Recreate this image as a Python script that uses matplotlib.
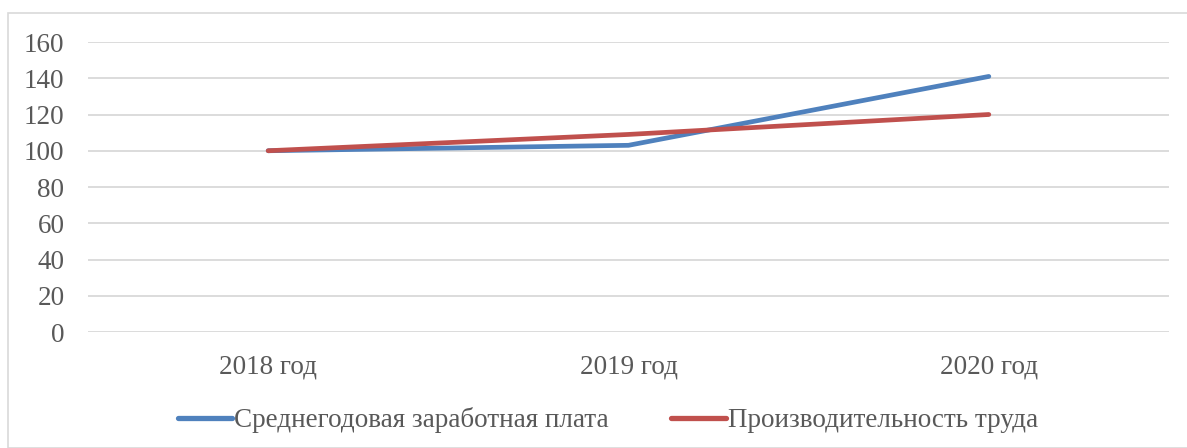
import matplotlib
matplotlib.use("Agg")
import matplotlib.pyplot as plt
from matplotlib.lines import Line2D
from matplotlib.patches import Rectangle

categories = ["2018 год", "2019 год", "2020 год"]
salary = [100, 103, 141]
productivity = [100, 109, 120]
series_names = ["Среднегодовая заработная плата", "Производительность труда"]
yticks = [0, 20, 40, 60, 80, 100, 120, 140, 160]

W, H = 1187, 448
fig = plt.figure(figsize=(W / 100, H / 100), dpi=100)
plt.rcParams['font.family'] = ['Liberation Serif', 'DejaVu Serif']
FS = 19.5

# outer frame
fig.patches.append(Rectangle((8 / W, 0), 1.2, (H - 13) / H, transform=fig.transFigure,
                             fill=False, edgecolor='#d9d9d9', linewidth=1.2))

ax = fig.add_axes([88 / W, (H - 332) / H, (1169 - 88) / W, 290 / H])
x = list(range(len(categories)))
ax.plot(x, salary, color='#4F81BD', lw=3.4, solid_capstyle='round', solid_joinstyle='round', zorder=3)
ax.plot(x, productivity, color='#C0504D', lw=3.4, solid_capstyle='round', solid_joinstyle='round', zorder=4)
ax.set_xlim(-0.5, 2.5)
ax.set_ylim(0, 160)
ax.set_yticks(yticks)
ax.set_yticklabels([str(v) for v in yticks])
ax.set_xticks(x)
ax.set_xticklabels(categories)
ax.grid(axis='y', color='#d9d9d9', lw=1.3)
ax.set_axisbelow(True)
for s in ax.spines.values():
    s.set_visible(False)
ax.tick_params(length=0, labelsize=FS, labelcolor='#595959')
ax.tick_params(axis='y', pad=17)
ax.tick_params(axis='x', pad=16)

handles = [Line2D([], [], color='#4F81BD', lw=3.8, solid_capstyle='round'),
           Line2D([], [], color='#C0504D', lw=3.8, solid_capstyle='round')]
fig.legend(handles, series_names, loc='center', bbox_to_anchor=(608 / W, 1 - 420 / H),
           ncol=2, frameon=False, fontsize=FS, labelcolor='#595959', handlelength=2.0,
           handletextpad=0.08, columnspacing=2.3)

fig.savefig("out.png", dpi=100)
